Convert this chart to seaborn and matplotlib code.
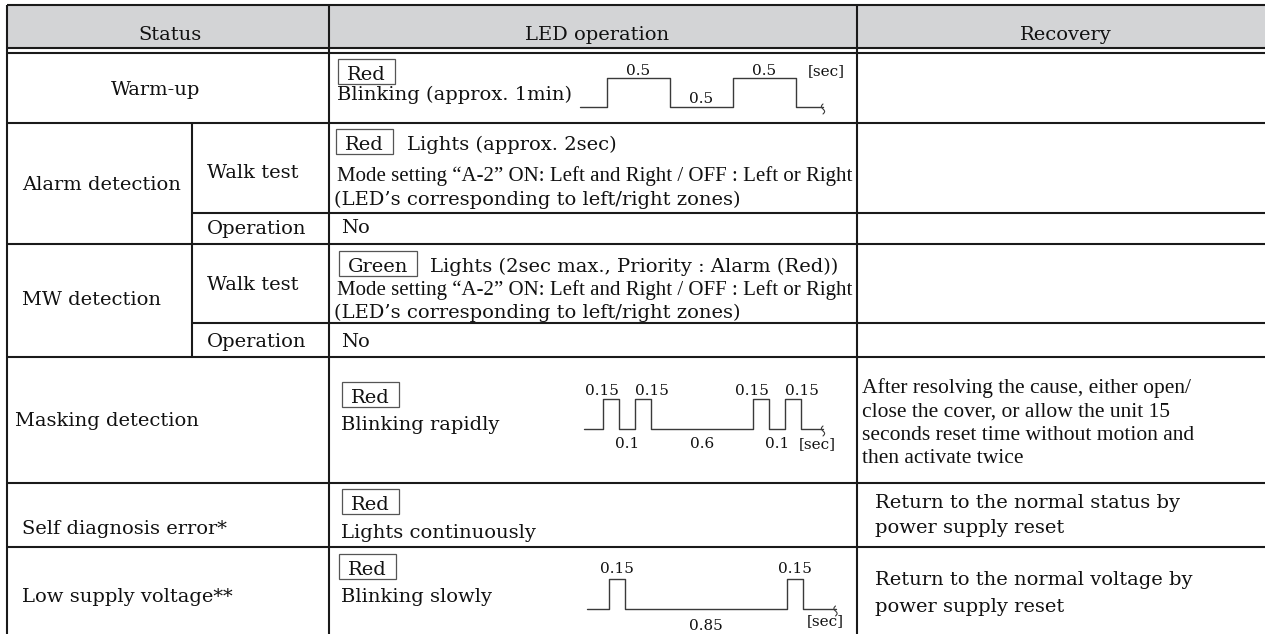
import matplotlib
matplotlib.use("Agg")
import numpy as np
import pandas as pd
import seaborn as sns
import matplotlib.pyplot as plt
from matplotlib.patches import Rectangle

# ---------------- data ----------------
header_labels = ["Status", "LED operation", "Recovery"]
status_labels = ["Warm-up", "Alarm detection", "MW detection",
                 "Masking detection", "Self diagnosis error*", "Low supply voltage**"]
mode_labels = ["Walk test", "Operation"]
led_colors = ["Red", "Red", "Green", "Red", "Red", "Red"]
led_actions = ["Blinking (approx. 1min)", "Lights (approx. 2sec)",
               "Lights (2sec max., Priority : Alarm (Red))",
               "Blinking rapidly", "Lights continuously", "Blinking slowly"]
mode_note = "Mode setting \u201cA-2\u201d ON: Left and Right / OFF : Left or Right"
zone_note = "(LED\u2019s corresponding to left/right zones)"
operation_led = "No"
recovery_masking = ["After resolving the cause, either open/",
                    "close the cover, or allow the unit 15",
                    "seconds reset time without motion and",
                    "then activate twice"]
recovery_self_diag = ["Return to the normal status by", "power supply reset"]
recovery_low_voltage = ["Return to the normal voltage by", "power supply reset"]
warmup_durations = [0.5, 0.5, 0.5]
masking_durations = [0.15, 0.1, 0.15, 0.6, 0.15, 0.1, 0.15]
low_voltage_durations = [0.15, 0.85, 0.15]
time_unit = "[sec]"

# ---------------- style ----------------
sns.set_theme(style="white")
plt.rcParams['font.family'] = ['DejaVu Serif']
TXT = "#111111"
GRID = "#1a1a1a"
WAVE = "#3a3a3a"
HEADER_BG = "#d3d4d6"
FS = 14
FS_NUM = 11

W, H = 1265, 634
fig = plt.figure(figsize=(W / 100, H / 100), dpi=100)
ax = fig.add_axes([0, 0, 1, 1])
ax.set_xlim(0, W)
ax.set_ylim(H, 0)
ax.axis('off')


def txt(x, y, s, size=FS, ha='left', family='DejaVu Serif', **kw):
    return ax.text(x, y, s, fontsize=size, ha=ha, va='baseline',
                   family=family, color=TXT, **kw)


# ---------------- grid ----------------
LX, C1, C2, SUB = 7, 329, 857, 192
TOP, HB1, HB2 = 5, 48, 53
ax.add_patch(Rectangle((LX, TOP), W - LX, HB1 - TOP, fc=HEADER_BG, ec='none', zorder=0))
lw = 1.5
for y in [TOP, HB1, HB2, 123, 244, 357, 483, 547]:
    ax.plot([LX, W], [y, y], color=GRID, lw=lw, solid_capstyle='butt')
for y in [213, 323]:
    ax.plot([SUB, W], [y, y], color=GRID, lw=lw, solid_capstyle='butt')
for x in [LX, C1, C2]:
    ax.plot([x, x], [TOP, H], color=GRID, lw=lw, solid_capstyle='butt')
ax.plot([SUB, SUB], [123, 357], color=GRID, lw=lw, solid_capstyle='butt')

# ---------------- header ----------------
for x, s in zip([170, 597, 1066], header_labels):
    txt(x, 40, s, ha='center')

# ---------------- status column ----------------
txt(156, 95, status_labels[0], ha='center')
txt(22, 190, status_labels[1])
txt(22, 305, status_labels[2])
txt(15, 426, status_labels[3])
txt(22, 534, status_labels[4])
txt(22, 602, status_labels[5])
for yb in (178, 290):
    txt(207, yb, mode_labels[0])
for yb in (234, 347):
    txt(207, yb, mode_labels[1])

# ---------------- LED column ----------------
fig.canvas.draw()
renderer = fig.canvas.get_renderer()
inv = ax.transData.inverted()


def led_box(x_left, y_base, label):
    t = txt(x_left + 9, y_base, label)
    bb = t.get_window_extent(renderer)
    (x0, _), (x1, _) = inv.transform([[bb.x0, bb.y0], [bb.x1, bb.y1]])
    ax.add_patch(Rectangle((x0 - 9, y_base - 21), (x1 - x0) + 18, 25,
                           fc='none', ec='#555555', lw=0.9))
    return x1 + 9


led_box(338, 80, led_colors[0])
txt(337, 100, led_actions[0])

r = led_box(336, 150, led_colors[1])
txt(r + 14, 150, led_actions[1])
txt(337, 181, mode_note, family='Liberation Serif', size=15)
txt(334, 205, zone_note)
txt(341, 233, operation_led)

r = led_box(339, 272, led_colors[2])
txt(r + 13, 272, led_actions[2])
txt(337, 295, mode_note, family='Liberation Serif', size=15)
txt(334, 318, zone_note)
txt(341, 347, operation_led)

led_box(342, 403, led_colors[3])
txt(341, 430, led_actions[3])

led_box(342, 510, led_colors[4])
txt(341, 538, led_actions[4])

led_box(339, 575, led_colors[5])
txt(341, 602, led_actions[5])


# ---------------- waveforms ----------------
def draw_wave(durations, x0, y_low, y_high, scale, lead, tail,
              hi_off, lo_off, hi_nudge=None, short_w=16, short_cut=0.2):
    xs, ys = [x0, x0 + lead], [y_low, y_low]
    x = x0 + lead
    hi_i = 0
    for i, d in enumerate(durations):
        high = (i % 2 == 0)
        level = y_high if high else y_low
        w = short_w if d < short_cut else d * scale
        xs += [x, x + w]
        ys += [level, level]
        cx = x + w / 2
        if high:
            dx = hi_nudge[hi_i] if hi_nudge else 0
            hi_i += 1
            txt(cx + dx, y_high + hi_off, f"{d:g}", size=FS_NUM, ha='center')
        else:
            txt(cx, y_low + lo_off, f"{d:g}", size=FS_NUM, ha='center')
        x += w
    xs += [x, x + tail]
    ys += [y_low, y_low]
    df = pd.DataFrame({"x": xs, "y": ys})
    sns.lineplot(data=df, x="x", y="y", sort=False, estimator=None, ax=ax,
                 color=WAVE, lw=1.0, legend=False)
    xe = x + tail
    t = np.linspace(0, 1, 30)
    ax.plot(xe - 1.6 * np.sin(2 * np.pi * t), y_low - 3 + 10 * t, color=WAVE, lw=0.8)
    return xe


draw_wave(warmup_durations, 580, 107, 78, 126, 27, 27, -3, -4)
txt(826, 75, time_unit, size=FS_NUM, ha='center')

draw_wave(masking_durations, 584, 429, 399, 170, 19, 22, -4, 19, hi_nudge=[-9, 9, -9, 9])
txt(817, 448, time_unit, size=FS_NUM, ha='center')

draw_wave(low_voltage_durations, 587, 609, 579, 190, 22, 33, -6, 21)
txt(825, 625, time_unit, size=FS_NUM, ha='center')

# ---------------- recovery column ----------------
for yb, s in zip([393, 417, 440, 463], recovery_masking):
    txt(862, yb, s, family='Liberation Serif', size=15.5)
for yb, s in zip([508, 533], recovery_self_diag):
    txt(875, yb, s)
for yb, s in zip([585, 612], recovery_low_voltage):
    txt(875, yb, s)

ax.set_xlim(0, W)
ax.set_ylim(H, 0)
ax.axis('off')
fig.savefig("out.png", dpi=100)
